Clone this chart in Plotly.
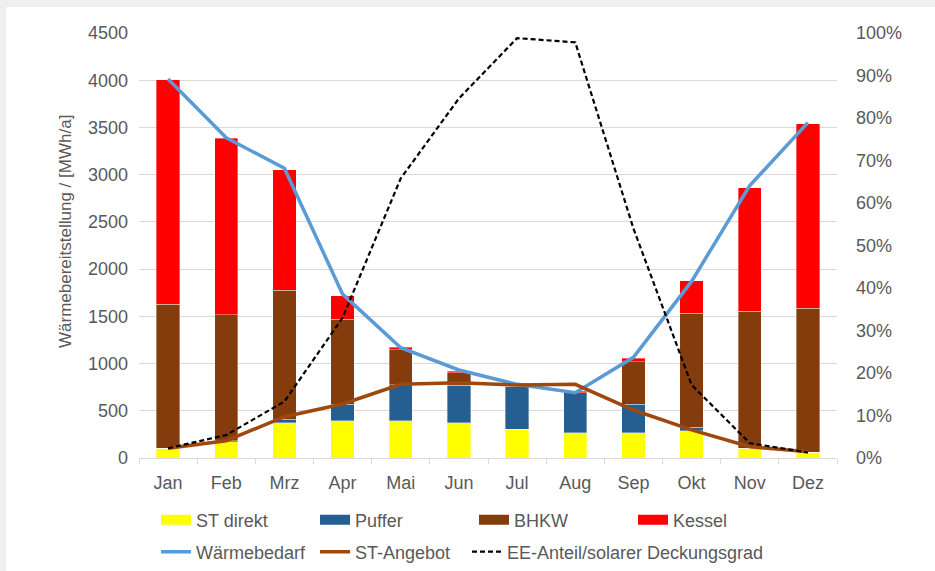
import plotly.graph_objects as go

months = ['Jan', 'Feb', 'Mrz', 'Apr', 'Mai', 'Jun', 'Jul', 'Aug', 'Sep', 'Okt', 'Nov', 'Dez']
st_direkt = [103, 173, 374, 392, 392, 374, 307, 265, 265, 286, 103, 60]
puffer = [0, 10, 36, 177, 381, 396, 453, 427, 304, 42, 0, 0]
bhkw = [1525, 1336, 1366, 900, 371, 134, 0, 0, 451, 1204, 1450, 1525]
kessel = [2377, 1867, 1277, 250, 31, 14, 0, 14, 36, 346, 1310, 1952]
waermebedarf = [4013, 3390, 3068, 1735, 1168, 932, 780, 692, 1066, 1870, 2884, 3551]
st_angebot = [103, 183, 437, 572, 780, 797, 773, 780, 508, 297, 120, 67]
ee_anteil = [0.023, 0.054, 0.133, 0.33, 0.658, 0.846, 0.988, 0.978, 0.54, 0.172, 0.035, 0.013]

y_ticks = [0, 500, 1000, 1500, 2000, 2500, 3000, 3500, 4000, 4500]
pct_ticks = [i / 10 for i in range(11)]

FONT = "Liberation Sans"
GRAY = "#595959"

bar_series = [
    ("ST direkt", st_direkt, "#FFFF00"),
    ("Puffer", puffer, "#255E91"),
    ("BHKW", bhkw, "#843C0C"),
    ("Kessel", kessel, "#FF0000"),
]

fig = go.Figure()
for name, vals, col in bar_series:
    fig.add_trace(go.Bar(
        x=months, y=vals, name=name, marker=dict(color=col, line=dict(color="rgba(255,255,255,0.45)", width=0.8)),
        showlegend=False, yaxis="y"))

fig.add_trace(go.Scatter(x=months, y=waermebedarf, name="Wärmebedarf", mode="lines",
                         line=dict(color="#5B9BD5", width=3.5), legend="legend2"))
fig.add_trace(go.Scatter(x=months, y=st_angebot, name="ST-Angebot", mode="lines",
                         line=dict(color="#9E480E", width=3.5), legend="legend2"))
fig.add_trace(go.Scatter(x=months, y=ee_anteil, name="EE-Anteil/solarer Deckungsgrad", mode="lines",
                         line=dict(color="#000000", width=2.2, dash="5px,3px"), yaxis="y2", legend="legend3"))

# legend swatches for bar series (wide rectangles like the original)
for name, vals, col in bar_series:
    fig.add_trace(go.Scatter(x=[None], y=[None], name=name, mode="lines",
                             line=dict(color=col, width=10), legend="legend", showlegend=True))

W, H = 935, 571
L, R, T, B = 139, 837, 33, 458

def px_x(p):
    return (p - L) / (R - L)

def px_y(p):
    return (B - p) / (B - T)

leg_common = dict(orientation="h", xanchor="left", yanchor="middle", xref="paper", yref="paper",
                  entrywidth=114, entrywidthmode="pixels", traceorder="normal",
                  font=dict(size=18, color=GRAY), bgcolor="rgba(0,0,0,0)", itemclick=False)

fig.update_layout(
    width=W, height=H,
    margin=dict(l=L, r=W - R, t=T, b=H - B, autoexpand=False),
    paper_bgcolor="#EFEFEF",
    plot_bgcolor="white",
    barmode="stack",
    bargap=0.6,
    font=dict(family=FONT, color=GRAY, size=18),
    xaxis=dict(
        type="category", showgrid=False, showline=True, linecolor="#D9D9D9", linewidth=1,
        ticks="outside", tickson="boundaries", ticklen=5, tickcolor="#D9D9D9",
        tickfont=dict(size=18, color=GRAY), ticklabelstandoff=8,
    ),
    yaxis=dict(
        range=[0, 4500], tickvals=y_ticks, ticktext=[str(v) for v in y_ticks],
        showgrid=True, gridcolor="#D9D9D9", gridwidth=1, zeroline=False, showline=False,
        ticks="", tickfont=dict(size=18, color=GRAY), ticklabelstandoff=10,
    ),
    yaxis2=dict(
        range=[0, 1], overlaying="y", side="right", tickvals=pct_ticks,
        ticktext=[f"{int(round(v * 100))}%" for v in pct_ticks],
        showgrid=False, zeroline=False, showline=False, ticks="",
        tickfont=dict(size=18, color=GRAY), ticklabelstandoff=18,
    ),
    legend=dict(x=px_x(156), y=px_y(520), **leg_common),
    legend2=dict(x=px_x(156), y=px_y(552), **leg_common),
    legend3=dict(orientation="h", xanchor="left", yanchor="middle", xref="paper", yref="paper",
                 x=px_x(467), y=px_y(552), traceorder="normal",
                 font=dict(size=18, color=GRAY), bgcolor="rgba(0,0,0,0)", itemclick=False),
    shapes=[dict(type="rect", xref="paper", yref="paper", layer="below",
                 x0=px_x(6), x1=px_x(W + 5), y0=px_y(7), y1=px_y(H + 5),
                 fillcolor="white", line=dict(width=0))],
    annotations=[dict(text="Wärmebereitstellung / [MWh/a]", textangle=-90, showarrow=False,
                      xref="paper", yref="paper", x=px_x(65), y=px_y(232),
                      xanchor="center", yanchor="middle", font=dict(size=17, color=GRAY))],
)

fig.write_html("out.html", config={"displayModeBar": False},
               post_script="document.body.style.margin='0';")
